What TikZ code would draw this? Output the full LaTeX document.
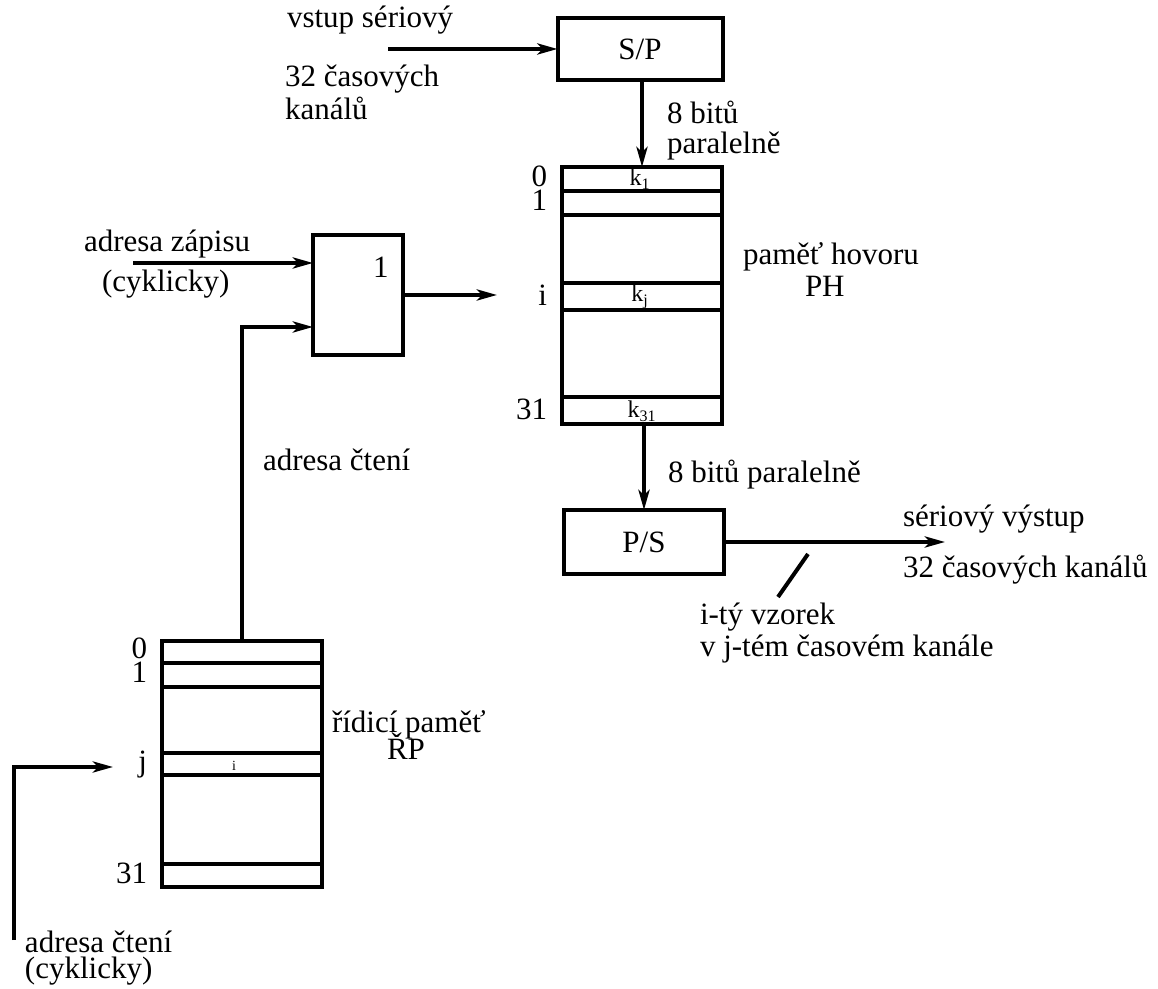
\documentclass[tikz,border=0pt]{standalone}
\usepackage{fontspec}
\setmainfont{Liberation Serif}
\usetikzlibrary{positioning,calc,arrows.meta}
\tikzset{
  wire/.style  = {draw=black, line width=2pt},
  flow/.style  = {wire, -{Stealth[length=10pt,width=5.5pt,inset=2.5pt]}},
  box/.style   = {draw=black, line width=2pt, inner sep=0pt, outer sep=0pt,
                  font=\fontsize{15.5}{17}\selectfont},
  lab/.style   = {font=\fontsize{15.5}{17}\selectfont, inner sep=0pt, outer sep=0pt, anchor=base west},
  addr/.style  = {lab, anchor=base east},
  cell/.style  = {font=\fontsize{12}{13}\selectfont, inner sep=0pt, outer sep=0pt, anchor=base},
  cellsm/.style= {font=\fontsize{7}{8}\selectfont, inner sep=0pt, outer sep=0pt, anchor=base},
}

\begin{document}
\begin{tikzpicture}[x=0.5pt,y=-0.5pt]
\path[use as bounding box] (0,0) rectangle (1158,989);

% ---- blocks -------------------------------------------------------------
\node[box, minimum width=82.5pt, minimum height=31pt] (sp)  at (640,49)    {S/P};
\node[box, minimum width=45pt,   minimum height=60pt] (mux) at (358,295)   {};
\node[box, minimum width=80pt,   minimum height=128.5pt] (ph) at (642,295.5) {};
\node[box, minimum width=80pt,   minimum height=32pt] (ps)  at (644,542)   {P/S};
\node[box, minimum width=80pt,   minimum height=123pt] (rp) at (242,764)   {};

\node[lab] (muxone) at (373,278) {1};

% ---- memory rows ----------------------------------------------------------
\foreach \ry in {191,215,283,310,397}{ \draw[wire] (562,\ry) -- (722,\ry); }
\foreach \ry in {663,687,753,775,864}{ \draw[wire] (162,\ry) -- (322,\ry); }

% paměť hovoru
\node[addr] (pha)  at (547,187) {0};
\node[addr] (phb)  at (547,211) {1};
\node[addr] (phi)  at (547,306) {i};
\node[addr] (phz)  at (547,420) {31};
\node[cell] (phka) at (640,186) {k\textsubscript{1}};
\node[cell] (phkj) at (640,302) {k\textsubscript{j}};
\node[cell] (phkz) at (642,418) {k\textsubscript{31}};
\node[lab]  (phname) at (743,265) {paměť hovoru};
\node[lab]  (phtag)  at (805,297) {PH};

% řídicí paměť
\node[addr]   (rpa) at (147,659) {0};
\node[addr]   (rpb) at (147,683) {1};
\node[addr]   (rpj) at (147,771) {j};
\node[addr]   (rpz) at (147,883) {31};
\node[cellsm] (rpi) at (234,770) {i};
\node[lab] (rpname) at (332,733) {řídicí paměť};
\node[lab] (rptag)  at (387,760) {ŘP};

% ---- connectors ---------------------------------------------------------
\coordinate (serin)  at (388,49);
\coordinate (wrin)   at (133,263);
\coordinate (rdmux)  at (313,327);
\coordinate (muxout) at (497,295);
\coordinate (serout) at (945,542);
\coordinate (tka)    at (808,554);
\coordinate (tkb)    at (778,597);
\coordinate (rdbase) at (14,940);
\coordinate (rdtip)  at (113,767);

\draw[flow] (serin) -- (sp.west);
\draw[flow] (sp.south -| ph.north) -- (ph.north);
\draw[flow] (wrin) -- (wrin -| mux.west);
\draw[flow] (rp.north) |- (rdmux);
\draw[flow] (mux.east) -- (muxout);
\draw[flow] (ph.south -| ps.north) -- (ps.north);
\draw[flow] (ps.east) -- (serout);
\draw[wire] (tka) -- (tkb);
\draw[flow] (rdbase) |- (rdtip);

% ---- labels -------------------------------------------------------------
\node[lab] (inla)  at (287,28)  {vstup sériový};
\node[lab] (inlb)  at (285,87)  {32 časových};
\node[lab] (inlc)  at (285,120) {kanálů};
\node[lab] (bita)  at (667,124) {8 bitů};
\node[lab] (bitb)  at (667,154) {paralelně};
\node[lab] (wra)   at (84,252)  {adresa zápisu};
\node[lab] (wrb)   at (102,292) {(cyklicky)};
\node[lab] (rda)   at (263,471) {adresa čtení};
\node[lab] (bitc)  at (668,483) {8 bitů paralelně};
\node[lab] (outa)  at (903,527) {sériový výstup};
\node[lab] (outb)  at (903,578) {32 časových kanálů};
\node[lab] (sama)  at (700,625) {i-tý vzorek};
\node[lab] (samb)  at (700,657) {v j-tém časovém kanále};
\node[lab] (cyca)  at (25,952)  {adresa čtení};
\node[lab] (cycb)  at (25,978)  {(cyklicky)};

\end{tikzpicture}
\end{document}
